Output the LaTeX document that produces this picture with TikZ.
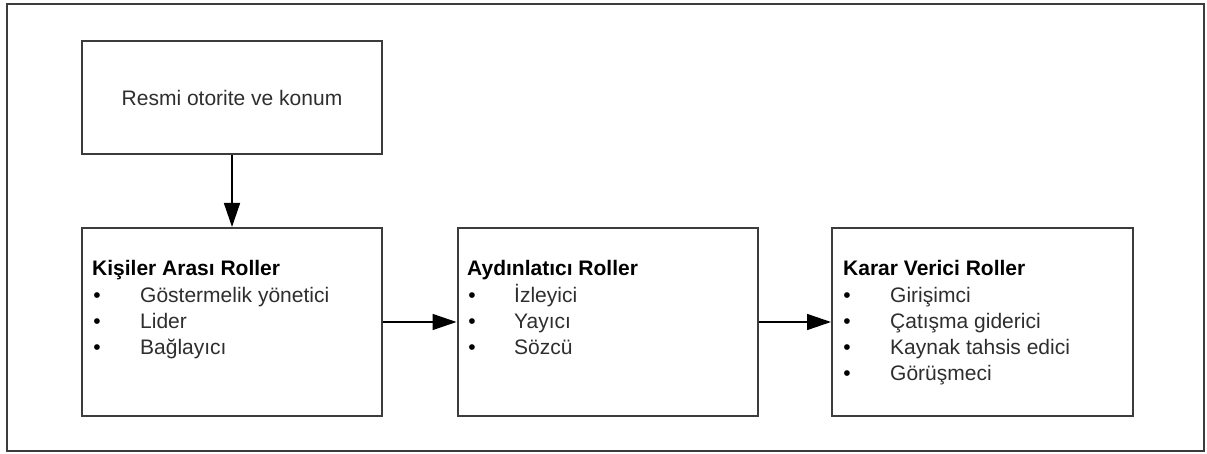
\documentclass[tikz,border=0pt]{standalone}
\usepackage{fontspec}
\setmainfont{Liberation Sans}
\usetikzlibrary{arrows.meta}
\definecolor{boxgray}{HTML}{3C3C3C}
\definecolor{txtgray}{HTML}{2E2E2E}
\begin{document}
\begin{tikzpicture}[x=1pt,y=-1pt,
  every node/.style={font=\fontsize{21pt}{25pt}\selectfont},
  box/.style={draw=boxgray,line width=2pt,inner sep=0pt,fill=white},
  ttl/.style={anchor=base west,inner sep=0pt,font=\fontsize{21pt}{25pt}\selectfont\bfseries,text=black},
  itm/.style={anchor=base west,inner sep=0pt,text=txtgray},
  bul/.style={anchor=base,inner sep=0pt,text=black},
  conn/.style={line width=1.5pt,-{Triangle[length=24pt,width=16pt]}}]
\useasboundingbox (0,0) rectangle (1207,454);
\draw[draw=boxgray,line width=2pt] (7,4) rectangle (1204,451);
% boxes
\node[box,minimum width=300pt,minimum height=113pt,text=txtgray] (top) at (232,97.5) {Resmi otorite ve konum};
\node[box,minimum width=300pt,minimum height=188pt] (k) at (232,322) {};
\node[box,minimum width=300pt,minimum height=188pt] (a) at (607.5,322) {};
\node[box,minimum width=301pt,minimum height=188pt] (v) at (982.5,322) {};
% box 1
\node[ttl] (kt) at (92,276) {Kişiler Arası Roller};
\node[bul] (kb1) at (97,302.5) {\textbullet};
\node[itm] (ki1) at (140,302.5) {Göstermelik yönetici};
\node[bul] (kb2) at (97,328) {\textbullet};
\node[itm] (ki2) at (140,328) {Lider};
\node[bul] (kb3) at (97,354) {\textbullet};
\node[itm] (ki3) at (140,354) {Bağlayıcı};
% box 2
\node[ttl] (at) at (467,276) {Aydınlatıcı Roller};
\node[bul] (ab1) at (472,302.5) {\textbullet};
\node[itm] (ai1) at (514,302.5) {İzleyici};
\node[bul] (ab2) at (472,328) {\textbullet};
\node[itm] (ai2) at (514,328) {Yayıcı};
\node[bul] (ab3) at (472,354) {\textbullet};
\node[itm] (ai3) at (514,354) {Sözcü};
% box 3
\node[ttl] (vt) at (843,276) {Karar Verici Roller};
\node[bul] (vb1) at (847,302.5) {\textbullet};
\node[itm] (vi1) at (890,302.5) {Girişimci};
\node[bul] (vb2) at (847,328) {\textbullet};
\node[itm] (vi2) at (890,328) {Çatışma giderici};
\node[bul] (vb3) at (847,354) {\textbullet};
\node[itm] (vi3) at (890,354) {Kaynak tahsis edici};
\node[bul] (vb4) at (847,380) {\textbullet};
\node[itm] (vi4) at (890,380) {Görüşmeci};
% connectors
\draw[conn] (top.south) -- (k.north);
\draw[conn] (k.east) -- (a.west);
\draw[conn] (a.east) -- (v.west);
\end{tikzpicture}
\end{document}
